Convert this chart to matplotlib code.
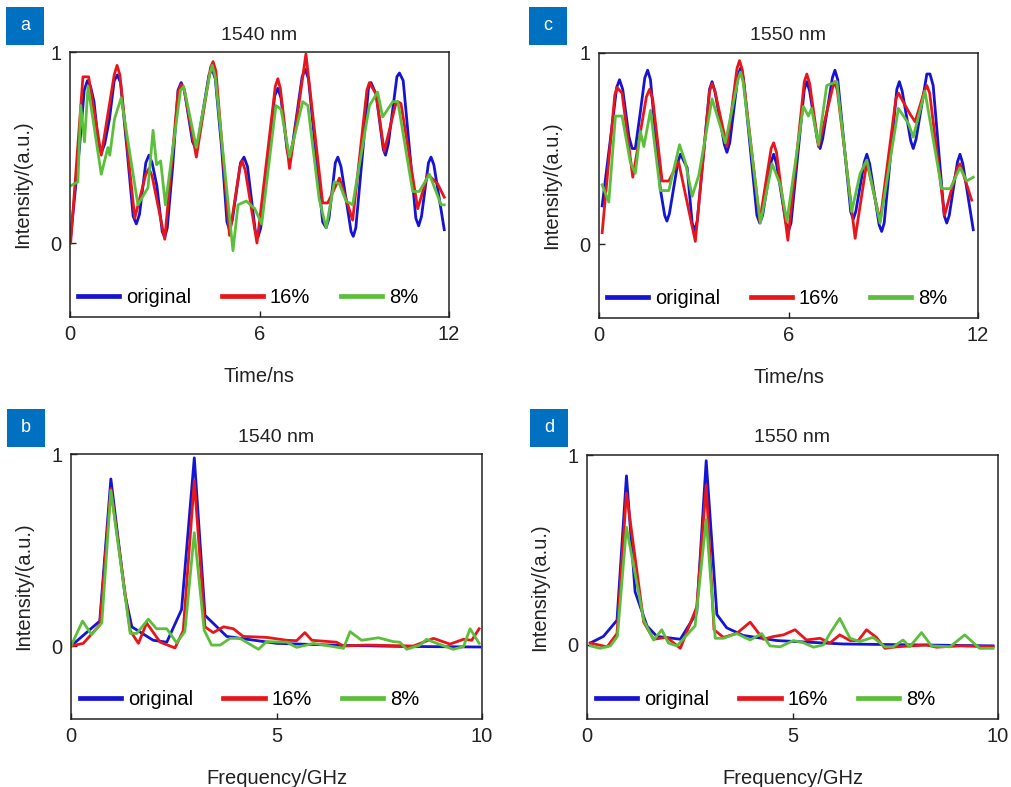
import matplotlib
matplotlib.use("Agg")
import matplotlib.pyplot as plt
from matplotlib.patches import Rectangle

plt.rcParams["font.family"] = ["Liberation Sans", "DejaVu Sans"]

BLUE = "#1414d2"
RED = "#e8161b"
GREEN = "#5cbf3c"

# ---- panel a: 1540 nm, time domain ----
a_t_orig = [0.02, 0.3, 0.45, 0.55, 0.65, 0.76, 0.9, 0.99, 1.1, 1.25, 1.4, 1.5, 1.6, 1.8, 2.0, 2.1,
            2.2, 2.4, 2.5, 2.6, 2.75, 2.92, 3.0, 3.08, 3.25, 3.42, 3.52, 3.62, 3.88, 3.97, 4.06,
            4.4, 4.5, 4.6, 4.8, 4.97, 5.05, 5.14, 5.4, 5.51, 5.62, 5.87, 5.95, 6.04, 6.48, 6.58,
            6.68, 6.88, 6.95, 7.05, 7.35, 7.45, 7.55, 8.0, 8.11, 8.2, 8.4, 8.48, 8.58, 8.9, 8.97,
            9.05, 9.45, 9.53, 9.69, 9.92, 9.99, 10.08, 10.35, 10.43, 10.55, 10.95, 11.04, 11.13,
            11.35, 11.43, 11.52, 11.85]
a_v_orig = [0.03, 0.5, 0.80, 0.85, 0.82, 0.74, 0.52, 0.47, 0.52, 0.65, 0.85, 0.88, 0.84, 0.5, 0.14, 0.10,
            0.15, 0.42, 0.46, 0.42, 0.3, 0.06, 0.03, 0.08, 0.4, 0.80, 0.84, 0.80, 0.53, 0.50, 0.54,
            0.88, 0.91, 0.86, 0.5, 0.11, 0.07, 0.12, 0.42, 0.45, 0.40, 0.06, 0.03, 0.08, 0.77, 0.81,
            0.76, 0.48, 0.45, 0.52, 0.87, 0.91, 0.86, 0.11, 0.08, 0.13, 0.42, 0.45, 0.40, 0.06, 0.035,
            0.08, 0.81, 0.84, 0.78, 0.49, 0.46, 0.52, 0.87, 0.89, 0.85, 0.13, 0.09, 0.14,
            0.42, 0.45, 0.41, 0.07]
a_t_16 = [0.02, 0.41, 0.59, 0.99, 1.4, 1.49, 1.58, 2.05, 2.4, 2.5, 2.6, 3.0, 3.42, 3.52, 3.62,
          4.0, 4.45, 4.53, 4.62, 5.05, 5.38, 5.45, 5.55, 5.92, 6.5, 6.58, 6.66, 6.95, 7.26, 7.47,
          8.0, 8.16, 8.53, 8.95, 9.4, 9.48, 9.69, 9.95, 10.3, 10.38, 10.48, 11.01, 11.33,
          11.64, 11.85]
a_v_16 = [0.0, 0.87, 0.87, 0.46, 0.88, 0.93, 0.88, 0.13, 0.36, 0.39, 0.35, 0.02, 0.79, 0.83, 0.80,
          0.45, 0.92, 0.95, 0.90, 0.04, 0.40, 0.43, 0.38, 0.0, 0.82, 0.86, 0.81, 0.39, 0.74, 0.99,
          0.21, 0.21, 0.34, 0.12, 0.80, 0.84, 0.78, 0.48, 0.72, 0.74, 0.73, 0.18, 0.36,
          0.31, 0.24]
a_t_8 = [0.02, 0.25, 0.34, 0.46, 0.57, 0.99, 1.2, 1.26, 1.41, 1.62, 2.15, 2.47, 2.63, 2.74, 2.87,
         3.02, 3.5, 3.6, 4.0, 4.42, 4.5, 4.6, 5.16, 5.32, 5.58, 5.85, 6.07, 6.52, 6.68, 6.95, 7.37,
         7.53, 7.89, 8.11, 8.37, 8.53, 8.74, 8.95, 9.48, 9.74, 9.9, 10.22, 10.38, 10.85, 11.06,
         11.38, 11.75, 11.85]
a_v_8 = [0.30, 0.32, 0.72, 0.53, 0.82, 0.36, 0.50, 0.46, 0.65, 0.76, 0.20, 0.29, 0.59, 0.41, 0.43,
         0.20, 0.80, 0.82, 0.50, 0.88, 0.93, 0.87, -0.04, 0.20, 0.22, 0.18, 0.10, 0.72, 0.70, 0.45,
         0.74, 0.72, 0.23, 0.08, 0.32, 0.31, 0.22, 0.20, 0.72, 0.79, 0.66, 0.74, 0.74, 0.27, 0.27,
         0.36, 0.20, 0.20]

# ---- panel c: 1550 nm, time domain ----
c_t_orig = [0.1, 0.4, 0.56, 0.65, 0.75, 0.95, 1.05, 1.15, 1.3, 1.45, 1.54, 1.63, 1.94, 2.08, 2.15,
            2.23, 2.5, 2.58, 2.79, 2.95, 3.03, 3.11, 3.5, 3.58, 3.67, 3.97, 4.05, 4.14, 4.4, 4.48,
            4.57, 5.0, 5.09, 5.18, 5.45, 5.53, 5.62, 5.92, 6.0, 6.08, 6.5, 6.58, 6.67, 6.92, 7.0,
            7.08, 7.39, 7.47, 7.56, 7.97, 8.05, 8.13, 8.4, 8.48, 8.57, 8.87, 8.95, 9.03, 9.43,
            9.51, 9.6, 9.87, 9.95, 10.04, 10.38, 10.48, 10.58, 10.93, 11.01, 11.09, 11.35, 11.43,
            11.52, 11.85]
c_v_orig = [0.2, 0.6, 0.82, 0.86, 0.81, 0.56, 0.50, 0.50, 0.68, 0.87, 0.91, 0.86, 0.29, 0.15, 0.12,
            0.16, 0.43, 0.47, 0.40, 0.11, 0.07, 0.12, 0.81, 0.85, 0.80, 0.52, 0.48, 0.53, 0.88, 0.92,
            0.87, 0.15, 0.11, 0.15, 0.43, 0.47, 0.42, 0.11, 0.07, 0.11, 0.81, 0.85, 0.80, 0.54, 0.50,
            0.55, 0.87, 0.91, 0.86, 0.17, 0.13, 0.17, 0.43, 0.47, 0.42, 0.10, 0.066, 0.11, 0.81,
            0.85, 0.80, 0.54, 0.50, 0.55, 0.89, 0.89, 0.83, 0.15, 0.11, 0.15, 0.43, 0.47,
            0.42, 0.075]
c_t_16 = [0.1, 0.5, 0.57, 0.73, 1.07, 1.5, 1.6, 1.7, 2.0, 2.21, 2.52, 3.05, 3.5, 3.58, 3.67, 4.05,
          4.37, 4.45, 4.54, 5.09, 5.45, 5.53, 5.62, 5.98, 6.5, 6.58, 6.67, 6.95, 7.4, 7.47, 7.55,
          8.11, 8.48, 8.9, 9.4, 9.48, 9.85, 10.01, 10.3, 10.38, 10.47, 10.94, 11.35, 11.43, 11.8]
c_v_16 = [0.06, 0.78, 0.82, 0.79, 0.35, 0.77, 0.81, 0.76, 0.33, 0.33, 0.43, 0.014, 0.80, 0.84, 0.80,
          0.51, 0.92, 0.96, 0.91, 0.12, 0.50, 0.53, 0.48, 0.02, 0.85, 0.89, 0.84, 0.51, 0.82, 0.85,
          0.80, 0.03, 0.43, 0.12, 0.76, 0.79, 0.68, 0.64, 0.80, 0.83, 0.79, 0.15, 0.40, 0.42, 0.23]
c_t_8 = [0.1, 0.31, 0.52, 0.73, 0.99, 1.15, 1.31, 1.42, 1.63, 1.94, 2.21, 2.55, 2.73, 2.95, 3.16,
         3.58, 4.0, 4.4, 4.48, 4.56, 5.11, 5.48, 5.74, 5.95, 6.47, 6.63, 6.73, 6.95, 7.21, 7.53, 8.0,
         8.27, 8.48, 8.9, 9.48, 9.8, 9.95, 10.32, 10.85, 11.12, 11.43, 11.64, 11.85]
c_v_8 = [0.31, 0.22, 0.67, 0.67, 0.43, 0.37, 0.59, 0.51, 0.70, 0.28, 0.28, 0.52, 0.43, 0.25, 0.36,
         0.76, 0.53, 0.86, 0.90, 0.85, 0.11, 0.42, 0.31, 0.12, 0.72, 0.67, 0.71, 0.52, 0.83, 0.85, 0.17,
         0.37, 0.44, 0.11, 0.71, 0.63, 0.56, 0.80, 0.29, 0.29, 0.40, 0.33, 0.35]

# ---- panel b: 1540 nm, spectrum ----
b_f_orig = [0.0, 0.7, 0.97, 1.31, 1.48, 2.0, 2.33, 2.69, 3.0, 3.26, 3.79, 5.0, 6.5, 8.0, 9.95]
b_v_orig = [0.0, 0.13, 0.87, 0.27, 0.10, 0.03, 0.02, 0.19, 0.98, 0.16, 0.05, 0.014, 0.004, -0.002, -0.005]
b_f_16 = [0.0, 0.3, 0.7, 0.97, 1.44, 1.64, 1.84, 2.17, 2.53, 2.73, 3.0, 3.26, 3.46, 3.71, 3.95,
          4.19, 4.76, 5.25, 5.49, 5.69, 5.86, 6.46, 6.63, 7.2, 8.33, 8.82, 9.22, 9.55, 9.75, 9.93]
b_v_16 = [0.0, 0.014, 0.11, 0.82, 0.08, 0.014, 0.12, 0.02, -0.01, 0.08, 0.86, 0.10, 0.07, 0.10, 0.09,
          0.05, 0.045, 0.03, 0.028, 0.07, 0.03, 0.02, 0.0, 0.005, 0.0, 0.04, 0.01, 0.035, 0.03, 0.09]
b_f_8 = [0.0, 0.28, 0.5, 0.75, 0.97, 1.44, 1.6, 1.88, 2.08, 2.33, 2.57, 2.77, 3.0, 3.24, 3.42, 3.63,
         3.87, 4.11, 4.56, 4.76, 5.25, 5.49, 5.9, 6.63, 6.79, 7.07, 7.48, 7.84, 8.0, 8.17, 8.49,
         8.65, 8.9, 9.3, 9.55, 9.71, 9.93]
b_v_8 = [0.0, 0.13, 0.06, 0.12, 0.81, 0.066, 0.066, 0.14, 0.09, 0.09, 0.017, 0.075, 0.59, 0.083, 0.005,
         0.005, 0.04, 0.04, -0.017, 0.023, 0.02, -0.007, 0.014, -0.012, 0.075, 0.03, 0.043, 0.023,
         0.02, -0.017, 0.005, 0.035, 0.014, -0.017, -0.003, 0.09, 0.014]

# ---- panel d: 1550 nm, spectrum ----
d_f_orig = [0.08, 0.4, 0.73, 0.96, 1.17, 1.46, 1.7, 2.27, 2.67, 2.9, 3.16, 3.4, 3.8, 4.62, 6.23, 9.88]
d_v_orig = [0.01, 0.045, 0.13, 0.89, 0.28, 0.10, 0.045, 0.03, 0.17, 0.97, 0.16, 0.09, 0.05, 0.023,
            0.005, -0.005]
d_f_16 = [0.08, 0.49, 0.73, 0.96, 1.38, 1.62, 1.94, 2.27, 2.67, 2.9, 3.09, 3.32, 3.64, 3.97, 4.29,
          4.53, 4.78, 5.06, 5.34, 5.67, 5.91, 6.15, 6.4, 6.6, 6.8, 7.04, 7.25, 7.53, 8.26, 8.5,
          9.07, 9.88]
d_v_16 = [0.01, -0.01, 0.06, 0.80, 0.12, 0.03, 0.04, -0.018, 0.20, 0.84, 0.08, 0.04, 0.06, 0.12, 0.03,
          0.044, 0.053, 0.08, 0.026, 0.035, 0.01, 0.053, 0.023, 0.023, 0.08, 0.04, -0.018, -0.01,
          0.0, -0.012, -0.005, -0.01]
d_f_8 = [0.08, 0.32, 0.57, 0.74, 0.96, 1.38, 1.62, 1.82, 1.98, 2.19, 2.63, 2.9, 3.12, 3.32, 3.64,
         3.97, 4.25, 4.45, 4.7, 5.02, 5.26, 5.51, 5.75, 5.91, 6.15, 6.4, 6.64, 6.96, 7.25, 7.45,
         7.69, 7.85, 8.14, 8.38, 8.83, 9.19, 9.55, 9.88]
d_v_8 = [-0.005, -0.018, -0.005, 0.045, 0.62, 0.13, 0.026, 0.08, 0.01, -0.005, 0.1, 0.66, 0.035, 0.035,
         0.06, 0.026, 0.06, -0.005, -0.01, 0.023, 0.012, -0.012, 0.0, 0.06, 0.14, 0.035, 0.018, 0.04,
         -0.01, -0.01, 0.026, -0.01, 0.065, -0.005, -0.01, 0.053, -0.018, -0.018]

labels = ["original", "16%", "8%"]
colors = [BLUE, RED, GREEN]

panels = [
    ("a", "1540 nm", "Time/ns", [0, 6, 12], (0, 12), [(a_t_orig, a_v_orig), (a_t_16, a_v_16), (a_t_8, a_v_8)],
     [70, 52, 449, 317], (-0.387, 1.0)),
    ("c", "1550 nm", "Time/ns", [0, 6, 12], (0, 12), [(c_t_orig, c_v_orig), (c_t_16, c_v_16), (c_t_8, c_v_8)],
     [599, 53, 978, 318], (-0.387, 1.0)),
    ("b", "1540 nm", "Frequency/GHz", [0, 5, 10], (0, 10), [(b_f_orig, b_v_orig), (b_f_16, b_v_16), (b_f_8, b_v_8)],
     [71, 454, 482, 719], (-0.38, 1.0)),
    ("d", "1550 nm", "Frequency/GHz", [0, 5, 10], (0, 10), [(d_f_orig, d_v_orig), (d_f_16, d_v_16), (d_f_8, d_v_8)],
     [587, 455, 998, 719], (-0.39, 1.0)),
]
label_boxes = {"a": (6, 7), "c": (529, 7), "b": (7, 409), "d": (530, 409)}

W, H = 1011, 787
fig = plt.figure(figsize=(W / 100, H / 100), dpi=100)

for tag, title, xlabel, xticks, xlim, series, box, ylim in panels:
    l, t, r, b = box
    ax = fig.add_axes([l / W, 1 - b / H, (r - l) / W, (b - t) / H])
    for (xs, ys), lab, col in zip(series, labels, colors):
        ax.plot(xs, ys, color=col, lw=2.0, label=lab, solid_joinstyle="round")
    ax.set_xlim(*xlim)
    ax.set_ylim(*ylim)
    ax.set_xticks(xticks)
    ax.set_yticks([0, 1])
    ax.tick_params(direction="in", length=4, width=1, labelsize=14.5, pad=6, colors="#222222")
    for sp in ax.spines.values():
        sp.set_linewidth(1.1)
        sp.set_color("#222222")
    ax.set_title(title, fontsize=14, pad=9, color="#222222")
    ax.set_xlabel(xlabel, fontsize=14.5, labelpad=16, color="#222222")
    ax.set_ylabel("Intensity/(a.u.)", fontsize=14.5, labelpad=13, color="#222222")
    leg = ax.legend(loc="center left", bbox_to_anchor=(0.021, 0.075), ncol=3, frameon=False,
                    fontsize=14.5, handlelength=2.05, handletextpad=0.35, columnspacing=1.5,
                    borderpad=0, borderaxespad=0)
    for ln in leg.get_lines():
        ln.set_linewidth(3.4)

    bx, by = label_boxes[tag]
    fig.add_artist(Rectangle((bx / W, 1 - (by + 38) / H), 38 / W, 38 / H,
                             transform=fig.transFigure, facecolor="#0070c0", edgecolor="none"))
    fig.text((bx + 19) / W, 1 - (by + 19) / H, tag, color="white", fontsize=13,
             ha="center", va="center")

fig.savefig("out.png", dpi=100)
